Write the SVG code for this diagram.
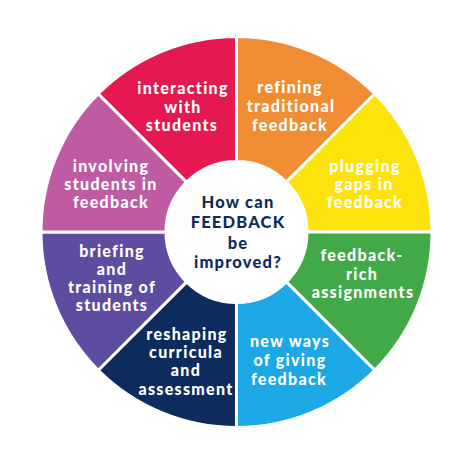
<svg xmlns="http://www.w3.org/2000/svg" width="474" height="466" viewBox="0 0 474 466">
<style>
.w{stroke:#fff;stroke-width:3;stroke-linejoin:miter}
.t{font-family:Lato,"Open Sans","DejaVu Sans",sans-serif;font-weight:900;font-size:16px;fill:#fff;text-anchor:middle;letter-spacing:1.3px}
.c{font-family:Lato,"Open Sans","DejaVu Sans",sans-serif;font-weight:900;font-size:16.5px;fill:#0E2B5E;text-anchor:middle;letter-spacing:1.2px}
</style>
<rect width="474" height="466" fill="#fff"/>
<g id="refining">
<path class="w" fill="#F08D33" d="M236.5,161.5 L236.5,36.5 A195.5,195.5 0 0 1 374.74,93.76 L286.35,182.15 A70.5,70.5 0 0 0 236.5,161.5 Z"/>
<text class="t"><tspan x="290" y="93">refining</tspan><tspan x="291" y="112">traditional</tspan><tspan x="290" y="131">feedback</tspan></text>
</g>
<g id="plugging">
<path class="w" fill="#FDE20C" d="M286.35,182.15 L374.74,93.76 A195.5,195.5 0 0 1 432,232 L307,232 A70.5,70.5 0 0 0 286.35,182.15 Z"/>
<text class="t"><tspan x="365" y="172">plugging</tspan><tspan x="364" y="190">gaps in</tspan><tspan x="365" y="208">feedback</tspan></text>
</g>
<g id="feedback-rich">
<path class="w" fill="#42A949" d="M307,232 L432,232 A195.5,195.5 0 0 1 374.74,370.24 L286.35,281.85 A70.5,70.5 0 0 0 307,232 Z"/>
<text class="t"><tspan x="362" y="261">feedback-</tspan><tspan x="362" y="280">rich</tspan><tspan x="363" y="298">assignments</tspan></text>
</g>
<g id="new-ways">
<path class="w" fill="#1BA8E4" d="M286.35,281.85 L374.74,370.24 A195.5,195.5 0 0 1 236.5,427.5 L236.5,302.5 A70.5,70.5 0 0 0 286.35,281.85 Z"/>
<text class="t"><tspan x="290" y="347">new ways</tspan><tspan x="290" y="366">of giving</tspan><tspan x="289" y="385">feedback</tspan></text>
</g>
<g id="reshaping">
<path class="w" fill="#0E2B5E" d="M236.5,302.5 L236.5,427.5 A195.5,195.5 0 0 1 98.26,370.24 L186.65,281.85 A70.5,70.5 0 0 0 236.5,302.5 Z"/>
<text class="t"><tspan x="187" y="340">reshaping</tspan><tspan x="186" y="358">curricula</tspan><tspan x="186" y="376">and</tspan><tspan x="186" y="395">assessment</tspan></text>
</g>
<g id="briefing">
<path class="w" fill="#5D4C9F" d="M186.65,281.85 L98.26,370.24 A195.5,195.5 0 0 1 41,232 L166,232 A70.5,70.5 0 0 0 186.65,281.85 Z"/>
<text class="t"><tspan x="112" y="257">briefing</tspan><tspan x="112" y="275">and</tspan><tspan x="112" y="293">training of</tspan><tspan x="112" y="311">students</tspan></text>
</g>
<g id="involving">
<path class="w" fill="#BF5BA3" d="M166,232 L41,232 A195.5,195.5 0 0 1 98.26,93.76 L186.65,182.15 A70.5,70.5 0 0 0 166,232 Z"/>
<text class="t"><tspan x="111" y="172">involving</tspan><tspan x="111" y="190">students in</tspan><tspan x="111" y="208">feedback</tspan></text>
</g>
<g id="interacting">
<path class="w" fill="#E5184F" d="M186.65,182.15 L98.26,93.76 A195.5,195.5 0 0 1 236.5,36.5 L236.5,161.5 A70.5,70.5 0 0 0 186.65,182.15 Z"/>
<text class="t"><tspan x="183" y="94">interacting</tspan><tspan x="183" y="113">with</tspan><tspan x="182" y="131">students</tspan></text>
</g>
<g id="center">
<circle cx="236.5" cy="232" r="70.5" fill="#fff"/>
<text class="c"><tspan x="238" y="208">How can</tspan><tspan x="238" y="228">FEEDBACK</tspan><tspan x="238" y="249">be</tspan><tspan x="238" y="268">improved?</tspan></text>
</g>
<g id="connectors"/>
</svg>
